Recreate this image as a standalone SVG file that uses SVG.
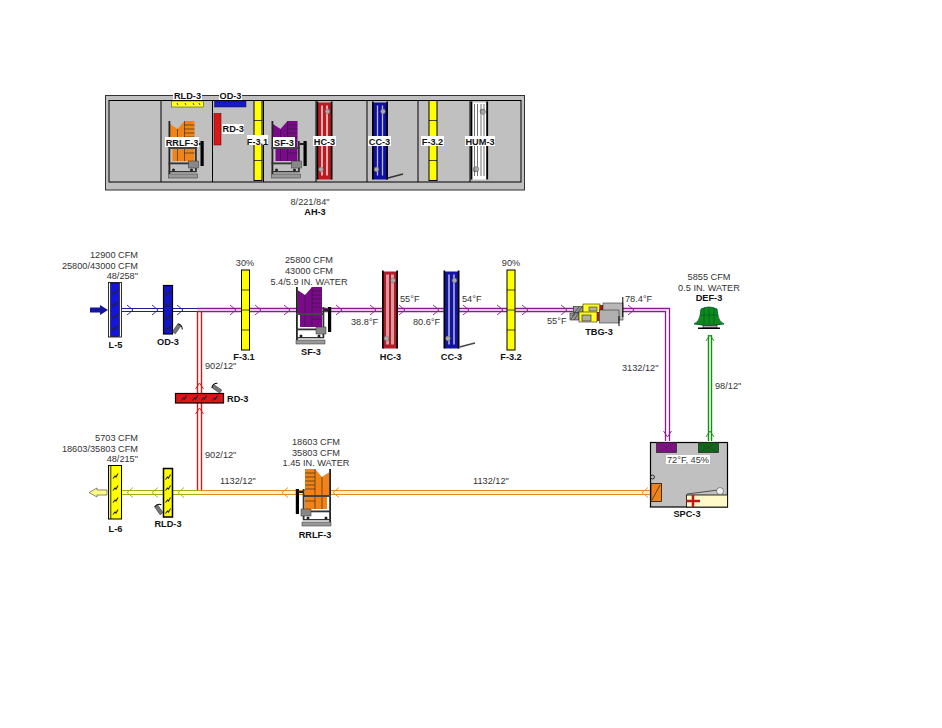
<svg xmlns="http://www.w3.org/2000/svg" xmlns:xlink="http://www.w3.org/1999/xlink" width="942" height="728" viewBox="0 0 942 728">
<style>
text{font-family:"Liberation Sans",Arial,sans-serif;font-size:9.2px;fill:#333}
.b{font-weight:bold;fill:#111}
.m{text-anchor:middle}
.r{text-anchor:end}
.lbl{fill:#fff}
.k{fill:none;stroke:#000;stroke-width:1}
.pur{fill:none;stroke:#8a1a90;stroke-width:1.3}
.blu{fill:none;stroke:#1c1c9a;stroke-width:1.2}
.red{fill:none;stroke:#d81818;stroke-width:1.4}
.org{fill:none;stroke:#e08a20;stroke-width:1.2}
.yel{fill:none;stroke:#a8a820;stroke-width:1.2}
.grn{fill:none;stroke:#129012;stroke-width:1.4}
.fil{fill:#ffff00;stroke:#000;stroke-width:1}
</style>
<defs>
<path id="chev" d="M-3,-5 L3,0 L-3,5" stroke-width="0.9" fill="none"/>
<path id="chevd" d="M-4,-3 L0,3 L4,-3" stroke-width="0.9" fill="none"/>
<g id="filter">
<rect class="fil" x="0" y="0" width="8" height="80"/>
<path d="M0,20H8M0,40H8M0,60H8" stroke="#000" stroke-width="0.7"/>
</g>
<g id="fan">
<path d="M1.500,3 L9,8 L16,0 L26,0 L26,40 L4,40 L4,27 L1.500,27 Z"/>
<path d="M16,0V40M16,4H26M16,8H26M16,12H26M16,16H26M16,20H26M9,8V40M16,32H26" stroke="#222" stroke-width="0.6" fill="none"/>
<rect x="0" y="0" width="1.800" height="53" fill="#222"/>
<rect x="0" y="26" width="28" height="2" fill="#444"/>
<rect x="26.500" y="20" width="1.800" height="31" fill="#333"/>
<rect x="0" y="41.500" width="28" height="1.800" fill="#333"/>
<rect x="20" y="40" width="10" height="7" fill="#888" stroke="#333" stroke-width="0.5"/>
<rect x="32" y="20" width="3.200" height="25" fill="#000"/>
<rect x="28" y="22" width="5" height="2" fill="#222"/>
<rect x="0" y="50" width="28" height="1.300" fill="#333"/>
<circle cx="5" cy="49" r="1.500" fill="#222"/><circle cx="23" cy="49" r="1.500" fill="#222"/>
<rect x="0" y="53" width="29" height="4" fill="#999" stroke="#333" stroke-width="0.5"/>
</g>
<g id="coil">
<rect x="1" y="1" width="14.500" height="77" stroke="none"/>
<path d="M5.500,4V74M10.500,4V74" stroke="currentColor" fill="none"/>
<rect x="0" y="0" width="1.700" height="78" fill="#000"/>
<rect x="14.300" y="0" width="1.700" height="78" fill="#000"/>
<circle cx="11" cy="10" r="2.400" fill="#aaa" stroke="#555" stroke-width="0.4"/>
<circle cx="4.500" cy="68" r="2.400" fill="#aaa" stroke="#555" stroke-width="0.4"/>
</g>
<g id="act">
<rect x="-1.800" y="-4.500" width="3.600" height="9" fill="#777" stroke="#222" stroke-width="0.5"/>
<path d="M-2,-5 A6,6 0 0 1 5,-3" class="k" stroke-width="0.8"/>
</g>
<path id="zig" d="M-2.500,2.500 L-0.500,0 L0.500,1 L2.500,-2.500" fill="none" stroke="#222" stroke-width="1.100"/>
</defs>

<g id="AH-3">
<rect x="105.500" y="95.500" width="419" height="94.500" fill="#c0c0c0" stroke="#333"/>
<rect x="109" y="100.500" width="412" height="81.500" fill="#c0c0c0" stroke="#000"/>
<path d="M161,100.500V182M212.500,100.500V182M263.500,100.500V182M316,100.500V182M367,100.500V182M418,100.500V182M470,100.500V182" stroke="#000" stroke-width="1" fill="none"/>
<text class="m" x="310" y="205">8/221/84"</text>
<text class="b m" x="315" y="215">AH-3</text>
</g>
<g id="AH-RLD"><rect x="171.500" y="101" width="32" height="6" fill="#ffff20" stroke="#333" stroke-width="0.5"/><path d="M177,103l1,2M185,103l1,2M193,103l1,2M199,103l1,2" stroke="#444"/><rect x="173" y="90" width="29" height="10" class="lbl"/><text class="b m" x="187.500" y="98.500">RLD-3</text></g>
<g id="AH-OD"><rect x="214.500" y="101" width="31.500" height="6" fill="#1818c8" stroke="#113" stroke-width="0.5"/><rect x="219" y="90" width="23" height="10" class="lbl"/><text class="b m" x="230.500" y="98.500">OD-3</text></g>
<g id="AH-RD"><rect x="214" y="113.500" width="7" height="31.500" fill="#d81818" stroke="#400" stroke-width="0.5"/><rect x="222" y="124" width="22" height="10" class="lbl"/><text class="b" x="222.500" y="132">RD-3</text></g>
<g id="AH-RRLF"><use href="#fan" x="168.500" y="121" fill="#f08418"/><rect x="165" y="137" width="34" height="10" class="lbl"/><text class="b m" x="182" y="145.500">RRLF-3</text></g>
<g id="AH-F31"><use href="#filter" x="254" y="100.500"/><rect x="247" y="135" width="21" height="10" class="lbl"/><text class="b m" x="257.500" y="144.500">F-3.1</text></g>
<g id="AH-SF"><use href="#fan" x="271.500" y="121" fill="#7a0a8a"/><rect x="273" y="137" width="22" height="10" class="lbl"/><text class="b m" x="284" y="145.500">SF-3</text></g>
<g id="AH-HC"><use href="#coil" x="316.500" y="101.500" fill="#c01820" color="#e8b0b0" stroke-width="2"/><rect x="313" y="136" width="23" height="10" class="lbl"/><text class="b m" x="324.500" y="144.500">HC-3</text></g>
<g id="AH-CC"><use href="#coil" x="372" y="101.500" fill="#1010a0" color="#b8b8e8" stroke-width="1.300"/><path d="M388,178 L403,174" stroke="#333" stroke-width="1.300"/><rect x="368" y="136" width="23" height="10" class="lbl"/><text class="b m" x="379.500" y="144.500">CC-3</text></g>
<g id="AH-F32"><use href="#filter" x="429" y="100.500"/><rect x="421" y="136" width="23" height="10" class="lbl"/><text class="b m" x="432.500" y="144.500">F-3.2</text></g>
<g id="AH-HUM"><use href="#coil" transform="translate(470.500,101.500) scale(1.100,1)" fill="#fff" color="#fff" stroke-width="2"/><path d="M474.500,104V176M477.500,104V176M481,104V176M484,104V176" stroke="#333" stroke-width="0.7"/><circle cx="483" cy="112" r="2.400" fill="#aaa" stroke="#555" stroke-width="0.4"/><circle cx="476.500" cy="169" r="2.400" fill="#aaa" stroke="#555" stroke-width="0.4"/><rect x="465" y="136" width="30" height="10" class="lbl"/><text class="b m" x="480" y="144.500">HUM-3</text></g>

<g id="connectors">
<path class="blu" d="M122,308.500H197M122,311.500H197"/>
<path class="pur" d="M197,308.500H669.500V441M197,311.500H665.500V441"/>
<path class="red" d="M197.500,311V491M201.500,311V491"/>
<path d="M200,492.500H651" stroke="#fff0c8" stroke-width="3"/>
<path d="M122,492.500H200" stroke="#ffffb0" stroke-width="3"/>
<path class="yel" d="M122,490.500H200M122,494.500H200"/>
<path class="org" d="M200,490.500H651M200,494.500H651"/>
<path class="grn" d="M708.500,335V441M711.500,335V441"/>
<g class="blu"><use href="#chev" x="130" y="310"/><use href="#chev" x="155" y="310"/><use href="#chev" x="180" y="310"/></g>
<g class="pur"><use href="#chev" x="233" y="310"/><use href="#chev" x="258" y="310"/><use href="#chev" x="287" y="310"/><use href="#chev" x="339" y="310"/><use href="#chev" x="373" y="310"/><use href="#chev" x="402" y="310"/><use href="#chev" x="436" y="310"/><use href="#chev" x="466" y="310"/><use href="#chev" x="500" y="310"/><use href="#chev" x="525" y="310"/><use href="#chev" x="564" y="310"/><use href="#chev" x="631" y="310"/><use href="#chevd" x="667.500" y="434"/></g>
<g class="yel"><use href="#chev" transform="translate(130,492.500) scale(-1,1)"/><use href="#chev" transform="translate(155,492.500) scale(-1,1)"/><use href="#chev" transform="translate(181,492.500) scale(-1,1)"/></g>
<g class="org"><use href="#chev" transform="translate(285,492.500) scale(-1,1)"/><use href="#chev" transform="translate(336,492.500) scale(-1,1)"/><use href="#chev" transform="translate(645,492.500) scale(-1,1)"/></g>
<g class="red"><use href="#chevd" transform="translate(199.500,386) scale(1,-1)"/><use href="#chevd" transform="translate(199.500,411) scale(1,-1)"/></g>
<g class="grn"><use href="#chevd" transform="translate(710,338) scale(1,-1)"/><use href="#chevd" transform="translate(710,434) scale(1,-1)"/></g>
</g>

<g id="L-5">
<path d="M90,307.500H100V305L108,310L100,315V312.500H90Z" fill="#1414a0"/>
<rect x="108.500" y="282.500" width="13" height="54.500" fill="#fff" stroke="#000" stroke-width="0.8"/>
<rect x="110.500" y="283" width="9" height="53.500" fill="#1414e0" stroke="#000" stroke-width="0.6"/>
<use href="#zig" x="115" y="292"/><use href="#zig" x="115" y="304"/><use href="#zig" x="115" y="316"/><use href="#zig" x="115" y="328"/>
<text class="r" x="138" y="258">12900 CFM</text><text class="r" x="138" y="269">25800/43000 CFM</text><text class="r" x="138" y="279">48/258"</text>
<text class="b m" x="115.500" y="348">L-5</text>
</g>
<g id="OD-3">
<rect x="163.500" y="285.500" width="9" height="48.500" fill="#1414c8" stroke="#000" stroke-width="1.200"/>
<use href="#zig" x="168" y="293"/><use href="#zig" x="168" y="305"/><use href="#zig" x="168" y="317"/><use href="#zig" x="168" y="328"/>
<use href="#act" transform="translate(176.500,329) rotate(35)"/>
<text class="b m" x="168" y="345">OD-3</text>
</g>
<g id="F-3.1"><use href="#filter" x="241.500" y="270"/><text class="m" x="245" y="266">30%</text><text class="b m" x="244" y="360">F-3.1</text></g>
<text x="205" y="369">902/12"</text>
<g id="SF-3"><use href="#fan" x="296" y="287" fill="#7a0a8a"/><text class="m" x="309" y="263">25800 CFM</text><text class="m" x="309" y="274">43000 CFM</text><text class="m" x="309" y="284.500">5.4/5.9 IN. WATER</text><text class="b m" x="311" y="355">SF-3</text></g>
<g id="HC-3"><use href="#coil" x="382" y="270.500" fill="#b01c28" color="#dc9aa0" stroke-width="3"/><text class="b m" x="390.500" y="360">HC-3</text></g>
<g id="CC-3"><use href="#coil" x="443.500" y="270.500" fill="#1414a0" color="#b8b8e8" stroke-width="1.500"/><path d="M459.500,347 L475,343" stroke="#444" stroke-width="1.500"/><text class="b m" x="451.500" y="360">CC-3</text></g>
<g id="F-3.2"><use href="#filter" x="507" y="270"/><text class="m" x="511" y="266">90%</text><text class="b m" x="511" y="360">F-3.2</text></g>
<text x="400" y="302">55°F</text><text x="351" y="325">38.8°F</text><text x="413" y="325">80.6°F</text><text x="462" y="302">54°F</text><text x="547" y="324">55°F</text><text x="625" y="302">78.4°F</text><text x="622" y="371">3132/12"</text><text x="715" y="389">98/12"</text><text x="205" y="458">902/12"</text><text x="220" y="484">1132/12"</text><text x="473" y="484">1132/12"</text>
<g id="TBG-3">
<rect x="573.500" y="306.500" width="9.500" height="6" fill="#999" stroke="#222" stroke-width="0.6"/>
<path d="M575,312l4,-5M578,312l4,-5" stroke="#222" stroke-width="0.6"/>
<rect x="583" y="304" width="17" height="8.500" fill="#ffff20" stroke="#222" stroke-width="0.6"/>
<rect x="589" y="307" width="8" height="4" fill="#b0b0a0" stroke="#222" stroke-width="0.5"/>
<rect x="599.500" y="305" width="3.500" height="6" fill="#a01818"/>
<rect x="603" y="303" width="20" height="17" fill="#b8b8b8" stroke="#333" stroke-width="0.6"/>
<path d="M622.800,297V317" stroke="#000"/>
<rect x="570" y="313" width="9" height="7" fill="#999" stroke="#222" stroke-width="0.6"/>
<path d="M571,319l4,-5M574,320l4,-6M575,313l-3,3" stroke="#222" stroke-width="0.6"/>
<rect x="579" y="312" width="18" height="10" fill="#ffff20" stroke="#222" stroke-width="0.6"/>
<rect x="582" y="315" width="9" height="6" fill="#b0b0a0" stroke="#222" stroke-width="0.6"/>
<rect x="597" y="312" width="2.500" height="9" fill="#a01818"/>
<rect x="599.500" y="310" width="19.500" height="13" fill="#b0b0b0" stroke="#333" stroke-width="0.6"/>
<path d="M619,316V326" stroke="#000"/>
<text class="b m" x="599" y="335">TBG-3</text>
</g>
<g id="DEF-3">
<path d="M694,324 Q699,322 700,316 L701,309 Q709,305 717,309 L718,316 Q719,322 724,324 Q709,327 694,324Z" fill="#0e8a18" stroke="#053" stroke-width="0.8"/>
<path d="M704,308V324M709,307V325M714,308V324M700.500,315H718.500" stroke="#053" stroke-width="0.6" fill="none"/>
<rect x="703" y="325.500" width="14" height="2.500" fill="#aaa" stroke="#000" stroke-width="0.5"/><rect x="698" y="327.500" width="22" height="1.500" fill="#000"/>
<text class="m" x="709" y="280">5855 CFM</text><text class="m" x="709" y="290.500">0.5 IN. WATER</text><text class="b m" x="709" y="301">DEF-3</text>
</g>
<g id="RD-3">
<rect x="175.500" y="393.500" width="48" height="9.500" fill="#e01414" stroke="#000" stroke-width="1.200"/>
<use href="#zig" x="184" y="398"/><use href="#zig" x="195" y="398"/><use href="#zig" x="204" y="398"/><use href="#zig" x="215" y="398"/>
<use href="#act" transform="translate(217,389) rotate(-55)"/>
<text class="b" x="227" y="402">RD-3</text>
</g>
<g id="L-6">
<path d="M107,490H97V488L89,492.500L97,497V495H107Z" fill="#ffff80" stroke="#555" stroke-width="0.7"/>
<rect x="108.500" y="465.500" width="13" height="53.500" fill="#ffff00" stroke="#000" stroke-width="1"/>
<path d="M110.800,466V519" stroke="#000" stroke-width="0.8"/>
<use href="#zig" x="115.500" y="476"/><use href="#zig" x="115.500" y="488"/><use href="#zig" x="115.500" y="500"/><use href="#zig" x="115.500" y="512"/>
<text class="r" x="138" y="441">5703 CFM</text><text class="r" x="138" y="451.500">18603/35803 CFM</text><text class="r" x="138" y="462">48/215"</text>
<text class="b m" x="115.500" y="532">L-6</text>
</g>
<g id="RLD-3">
<rect x="163.500" y="468.500" width="9" height="48.500" fill="#ffff00" stroke="#000" stroke-width="1.500"/>
<use href="#zig" x="168" y="477"/><use href="#zig" x="168" y="488"/><use href="#zig" x="168" y="500"/><use href="#zig" x="168" y="511"/>
<use href="#act" transform="translate(159,510) rotate(-35)"/>
<text class="b m" x="168" y="527">RLD-3</text>
</g>
<g id="RRLF-3">
<use href="#fan" transform="translate(331,469) scale(-1,1)" fill="#f08418"/>
<text class="m" x="316" y="445">18603 CFM</text><text class="m" x="316" y="456">35803 CFM</text><text class="m" x="316" y="466">1.45 IN. WATER</text>
<text class="b m" x="315" y="538">RRLF-3</text>
</g>
<g id="SPC-3">
<rect x="650.500" y="442.500" width="77" height="64.500" fill="#c0c0c0" stroke="#000" stroke-width="1.200"/>
<rect x="656.500" y="442.500" width="20" height="10" fill="#800f88" stroke="#222" stroke-width="0.7"/>
<path d="M656.500,452.500L676.500,442.500M656.500,442.500L676.500,452.500" stroke="#333" stroke-width="0.5"/>
<rect x="698.500" y="442.500" width="20" height="10" fill="#0e6a18" stroke="#222" stroke-width="0.7"/>
<path d="M698.500,452.500L718.500,442.500M698.500,442.500L718.500,452.500" stroke="#333" stroke-width="0.5"/>
<rect x="666" y="455" width="44" height="9" class="lbl"/>
<text class="m" x="688" y="462.500">72°F, 45%</text>
<circle cx="652.500" cy="477" r="2" fill="#bbb" stroke="#000" stroke-width="0.7"/>
<rect x="651" y="483.500" width="10.500" height="18" fill="#f08418" stroke="#000" stroke-width="0.7"/>
<path d="M652,500L660,485" stroke="#222" stroke-width="0.7"/>
<rect x="686.500" y="495" width="41" height="12" fill="#fff8c8" stroke="#000" stroke-width="0.8"/>
<path d="M693,495V507M686.500,501H700" stroke="#c01818" stroke-width="2.500"/>
<path d="M687,494L718,490" stroke="#333" stroke-width="0.8"/>
<circle cx="720" cy="491" r="3.500" fill="#eee" stroke="#333" stroke-width="0.5"/>
<text class="b m" x="687" y="517">SPC-3</text>
</g>
</svg>
